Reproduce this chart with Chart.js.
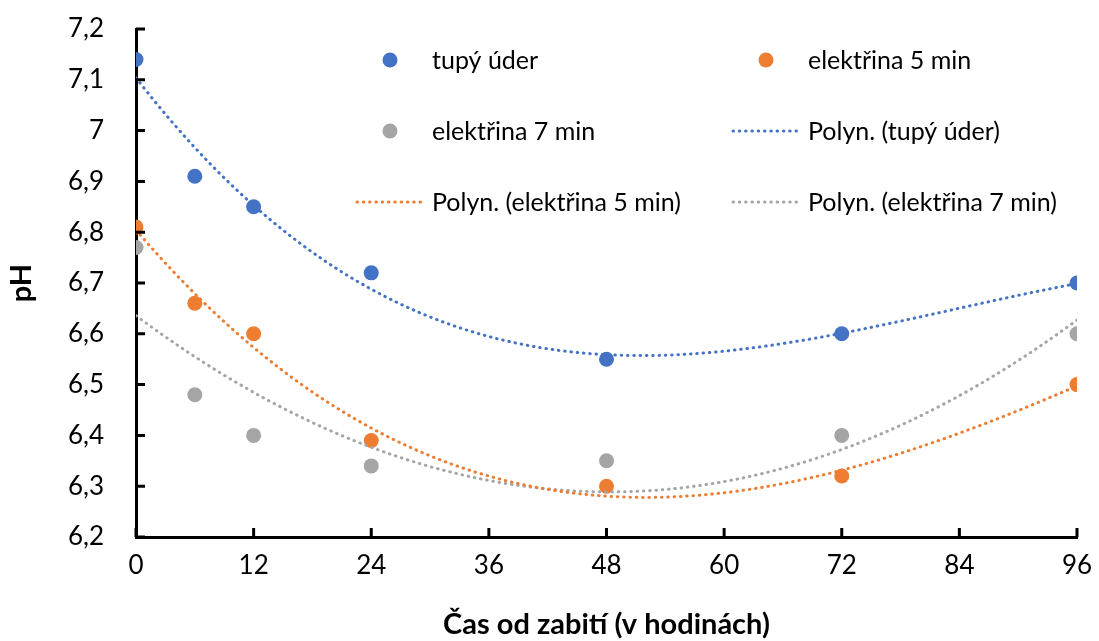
<!DOCTYPE html>
<html>
<head>
<meta charset="utf-8">
<script src="https://cdn.jsdelivr.net/npm/chart.js@4"></script>
<style>
  html, body { margin: 0; padding: 0; background: #fff; }
  #wrap { width: 1099px; height: 641px; position: relative; }
</style>
</head>
<body>
<div id="wrap"><canvas id="phChart"></canvas></div>
<script>
// Hodiny od zabití a naměřené pH
const hours = [0, 6, 12, 24, 48, 72, 96];
const phTupyUder = [7.14, 6.91, 6.85, 6.72, 6.55, 6.60, 6.70];
const phElektrina5 = [6.81, 6.66, 6.60, 6.39, 6.30, 6.32, 6.50];
const phElektrina7 = [6.77, 6.48, 6.40, 6.34, 6.35, 6.40, 6.60];
const seriesNames = ['tupý úder', 'elektřina 5 min', 'elektřina 7 min'];
const xTicks = [0, 12, 24, 36, 48, 60, 72, 84, 96];
const yTicks = [6.2, 6.3, 6.4, 6.5, 6.6, 6.7, 6.8, 6.9, 7.0, 7.1, 7.2];
// stupeň polynomu pro každou řadu
const trendOrders = [3, 3, 2];

const colors = ['#4472C4', '#ED7D31', '#A5A5A5'];
const FONT = 'Lato, "Open Sans", sans-serif';

// polynomický trend metodou nejmenších čtverců (x škálováno kvůli stabilitě)
function polyfit(xs, ys, deg) {
    const sc = Math.max(...xs) || 1;
    const n = deg + 1;
    const m = [];
    for (let i = 0; i < n; i++) {
        m.push(new Array(n + 1).fill(0));
    }
    xs.forEach((x0, idx) => {
        const x = x0 / sc;
        for (let i = 0; i < n; i++) {
            for (let j = 0; j < n; j++) m[i][j] += Math.pow(x, i + j);
            m[i][n] += Math.pow(x, i) * ys[idx];
        }
    });
    for (let i = 0; i < n; i++) {
        let p = i;
        for (let r = i + 1; r < n; r++) if (Math.abs(m[r][i]) > Math.abs(m[p][i])) p = r;
        [m[i], m[p]] = [m[p], m[i]];
        for (let r = i + 1; r < n; r++) {
            const f = m[r][i] / m[i][i];
            for (let k = i; k <= n; k++) m[r][k] -= f * m[i][k];
        }
    }
    const c = new Array(n).fill(0);
    for (let i = n - 1; i >= 0; i--) {
        let v = m[i][n];
        for (let k = i + 1; k < n; k++) v -= m[i][k] * c[k];
        c[i] = v / m[i][i];
    }
    return x => c.reduce((acc, ci, k) => acc + ci * Math.pow(x / sc, k), 0);
}

function trendPoints(ys, deg) {
    const f = polyfit(hours, ys, deg);
    const pts = [];
    const x0 = hours[0], x1 = hours[hours.length - 1];
    for (let x = x0; x <= x1; x += 0.5) pts.push({ x: x, y: f(x) });
    return pts;
}

const allSeries = [phTupyUder, phElektrina5, phElektrina7];

const pointSets = allSeries.map((ys, i) => ({
    label: seriesNames[i],
    type: 'scatter',
    data: hours.map((h, j) => ({ x: h, y: ys[j] })),
    backgroundColor: colors[i],
    borderColor: colors[i],
    pointRadius: 7.5,
    pointBorderWidth: 0,
    order: 2
}));

const trendSets = allSeries.map((ys, i) => ({
    label: 'Polyn. (' + seriesNames[i] + ')',
    type: 'line',
    data: trendPoints(ys, trendOrders[i]),
    borderColor: colors[i],
    borderWidth: 3,
    borderDash: [0.5, 5.8],
    borderCapStyle: 'round',
    pointRadius: 0,
    fill: false,
    order: 1
}));

// vnitřní značky na osách
const innerTicks = {
    id: 'innerTicks',
    afterDatasetsDraw(chart) {
        const { ctx, scales: { x, y }, chartArea } = chart;
        ctx.save();
        ctx.strokeStyle = '#000';
        ctx.lineWidth = 3;
        ctx.beginPath();
        xTicks.forEach(v => {
            const px = x.getPixelForValue(v);
            ctx.moveTo(px, chartArea.bottom);
            ctx.lineTo(px, chartArea.bottom - 9);
        });
        yTicks.forEach(v => {
            const py = y.getPixelForValue(v);
            ctx.moveTo(chartArea.left, py);
            ctx.lineTo(chartArea.left + 9, py);
        });
        ctx.stroke();
        ctx.restore();
    }
};

// legenda ve dvou sloupcích uvnitř grafu
const legendCols = [355, 731];
const legendRows = [60, 131, 202];
const gridLegend = {
    id: 'gridLegend',
    afterDraw(chart) {
        const ctx = chart.ctx;
        const sets = chart.data.datasets;
        ctx.save();
        ctx.font = '25px ' + FONT;
        ctx.textBaseline = 'middle';
        sets.forEach((ds, i) => {
            const cx = legendCols[i % 2];
            const cy = legendRows[Math.floor(i / 2)];
            if (ds.type === 'scatter') {
                ctx.fillStyle = ds.backgroundColor;
                ctx.beginPath();
                ctx.arc(cx + 35, cy, 7.5, 0, Math.PI * 2);
                ctx.fill();
            } else {
                ctx.strokeStyle = ds.borderColor;
                ctx.lineWidth = 3;
                ctx.lineCap = 'round';
                ctx.setLineDash([0.5, 5.8]);
                ctx.beginPath();
                ctx.moveTo(cx + 2, cy);
                ctx.lineTo(cx + 69, cy);
                ctx.stroke();
                ctx.setLineDash([]);
            }
            ctx.fillStyle = '#000';
            ctx.fillText(ds.label, cx + 77, cy + 1);
        });
        ctx.restore();
    }
};

new Chart(document.getElementById('phChart'), {
    data: { datasets: pointSets.concat(trendSets) },
    options: {
        responsive: true,
        maintainAspectRatio: false,
        animation: false,
        layout: { padding: { top: 29, right: 22, bottom: 0, left: 0 } },
        plugins: {
            legend: { display: false },
            tooltip: { enabled: false }
        },
        scales: {
            x: {
                type: 'linear',
                min: 0,
                max: 96,
                afterBuildTicks: s => { s.ticks = xTicks.map(v => ({ value: v })); },
                grid: { display: false, drawTicks: false },
                border: { display: true, color: '#000', width: 3 },
                ticks: { color: '#000', padding: 13, font: { family: FONT, size: 26 } },
                title: {
                    display: true,
                    text: 'Čas od zabití (v hodinách)',
                    color: '#000',
                    font: { family: FONT, size: 29, weight: 'bold', lineHeight: 1.1 },
                    padding: { top: 0, bottom: 0 }
                },
                afterFit: s => {
                    s.height = 104;
                    s.paddingLeft = 0;
                    s.paddingRight = 0;
                }
            },
            y: {
                type: 'linear',
                min: 6.2,
                max: 7.2,
                afterBuildTicks: s => { s.ticks = yTicks.map(v => ({ value: v })); },
                grid: { display: false, drawTicks: false },
                border: { display: true, color: '#000', width: 3 },
                ticks: {
                    color: '#000',
                    padding: 32,
                    font: { family: FONT, size: 26 },
                    callback: v => String(Math.round(v * 10) / 10).replace('.', ',')
                },
                title: {
                    display: true,
                    text: 'pH',
                    color: '#000',
                    font: { family: FONT, size: 29, weight: 'bold' },
                    padding: { top: 4, bottom: 0 }
                },
                afterFit: s => {
                    s.width = 136;
                    s.paddingTop = 0;
                    s.paddingBottom = 0;
                }
            }
        }
    },
    plugins: [innerTicks, gridLegend]
});
</script>
</body>
</html>
